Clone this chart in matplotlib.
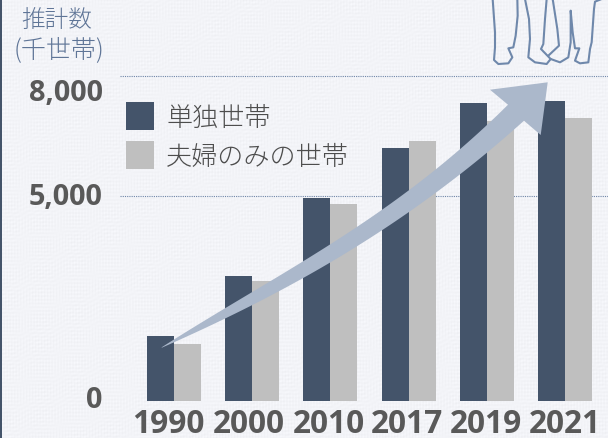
import numpy as np
import matplotlib
matplotlib.use('Agg')
import matplotlib.pyplot as plt
from matplotlib.patches import Polygon, Rectangle
from matplotlib.transforms import Affine2D, ScaledTranslation

years = ['1990', '2000', '2010', '2017', '2019', '2021']
single = [1472, 2972, 4930, 6200, 7322, 7372]    # 単独世帯
couple = [1265, 2862, 4787, 6368, 6870, 6946]    # 夫婦のみの世帯
yticks = [0, 5000, 8000]
ytick_labels = ['0', '5,000', '8,000']

W, H = 608, 439
bar_w = 0.345
jp_font = ['Noto Sans CJK JP', 'DejaVu Sans']

fig = plt.figure(figsize=(W / 100, H / 100), dpi=100, facecolor='#f3f4f8')

# pixel coords (y down) for the decoration, same as reading off the picture
px = Affine2D().scale(1, -1).translate(0, H)

# faint woven paper look behind everything
yy, xx = np.mgrid[0:H, 0:W]
weave = (np.sin(xx * 2.1) * np.sin(yy * 0.13 + xx * 0.02) + np.sin(yy * 1.7) * np.sin(xx * 0.09 + 1)
         + 0.6 * np.sin(xx * 0.031 + yy * 0.047) * np.sin(xx * 0.71 + yy * 1.31))
paper = np.array([243, 244, 248]) / 255
bg_rgb = np.clip(paper[None, None, :] + 0.009 * weave[:, :, None], 0, 1)
bg = fig.add_axes([0, 0, 1, 1], zorder=0)
bg.imshow(bg_rgb, aspect='auto')
bg.axis('off')
fig.add_artist(Rectangle((0, 0), 1.6, H, transform=px, fc='#44546a', ec='none'))

ax = fig.add_axes([120 / W, (H - 402) / H, (W - 120) / W, 402 / H], zorder=1)
ax.patch.set_alpha(0)
ax.set_xlim((120 - 174) / 78.2, (608 - 174) / 78.2)
floor = 8000 - 325 * 25.1    # bars sit a little under the 0 label in the original
ax.set_ylim(floor, 8000 + 77 * 25.1)

x = np.arange(len(years))
ax.bar(x - bar_w / 2, np.array(single) - floor, bar_w, bottom=floor, color='#44546a', label='単独世帯', zorder=3)
ax.bar(x + bar_w / 2, np.array(couple) - floor, bar_w, bottom=floor, color='#bfbfbf', label='夫婦のみの世帯', zorder=3)

for s in ax.spines.values():
    s.set_visible(False)
ax.set_axisbelow(True)
ax.tick_params(length=0)

ax.set_yticks(yticks)
ax.set_yticklabels(ytick_labels, fontfamily='Open Sans', fontweight='bold', fontsize=20.8, color='#595959')
ax.tick_params(axis='y', pad=12.5)
ax.grid(axis='y', color='#6f86a8', linestyle=(0, (1, 1)), linewidth=0.8)
ax.yaxis.get_gridlines()[0].set_visible(False)

ax.set_xticks(x)
ax.set_xticklabels(years, fontfamily='Open Sans', fontweight='bold', fontsize=22.8, color='#595959')
ax.tick_params(axis='x', pad=4.5)

# the original labels are hand placed, not quite on the ticks
y_shift = [-1, 3, -13]
for lab, dy in zip(ax.get_yticklabels(), y_shift):
    lab.set_transform(lab.get_transform() + ScaledTranslation(0, dy / 100, fig.dpi_scale_trans))
x_shift = [-6, -3.4, -2, -2, -0.4, -0.5]
for lab, dx in zip(ax.get_xticklabels(), x_shift):
    lab.set_transform(lab.get_transform() + ScaledTranslation(dx / 100, 0, fig.dpi_scale_trans))

ax.legend(loc='upper left', bbox_to_anchor=(6 / 488, (402 - 103) / 402), frameon=False, prop={'family': jp_font, 'size': 18.8, 'weight': 'light'},
          labelcolor='#4d4d4d', handlelength=1.08, handleheight=1.28, handletextpad=0.46, labelspacing=0.38, borderpad=0, borderaxespad=0)

# axis title
fig.text(57, H - 20, '推計数', transform=Affine2D(), family=jp_font, fontsize=17, weight='light', color='#5f7597', ha='center', va='center')
fig.text(59.5, H - 50, '(千世帯)', transform=Affine2D(), family=jp_font, fontsize=18, weight='light', color='#5f7597', ha='center', va='center')

# big growth arrow over the bars, edges smoothed through points
upper = np.array([(161.7, 349.3), (205, 320), (252, 292), (304, 263), (372, 220), (440, 164), (508, 106.7)])
lower = np.array([(161.7, 349.3), (205, 328), (252, 306.7), (304, 278), (350, 252), (400.7, 220), (462, 172), (524, 122.3)])
def smooth_edge(pts):
    xs = np.linspace(pts[0, 0], pts[-1, 0], 60)
    return np.column_stack([xs, np.polyval(np.polyfit(pts[:, 0], pts[:, 1], 3), xs)])

head = [(490, 90.7), (547.7, 83.3), (540.7, 136)]
outline = np.vstack([[upper[0]], smooth_edge(upper), head, smooth_edge(lower)[::-1]])
fig.add_artist(Polygon(outline, closed=True, transform=px, fc='#abb8cb', ec='none', zorder=5))

# people outline at the top right, cut off by the frame
def to_px(pts):
    return [(480 + a / 3, b / 3) for a, b in pts]

outlines = [
    [(38, 0), (45, 100), (45, 145), (42, 183), (55, 195), (85, 193), (97, 175), (85, 148), (100, 145), (107, 110), (113, 50), (112, 0)],
    [(135, 0), (147, 60), (150, 120), (145, 175), (165, 190), (200, 195), (212, 180), (240, 190), (265, 175), (272, 130), (272, 35),
     (278, 100), (285, 148), (298, 148), (285, 185), (300, 193), (325, 190), (330, 150), (335, 130), (342, 30), (345, 8), (365, 0)],
    [(200, 0), (195, 60), (190, 135), (183, 150), (212, 180)],
    [(205, 170), (237, 140), (232, 90), (218, 0)],
]
for o in outlines:
    p = np.array(to_px(o))
    fig.add_artist(plt.Line2D(p[:, 0], p[:, 1], transform=px, color='#6f88ab', linewidth=1.5, zorder=4))

fig.savefig('out.png', dpi=100, facecolor=fig.get_facecolor())
